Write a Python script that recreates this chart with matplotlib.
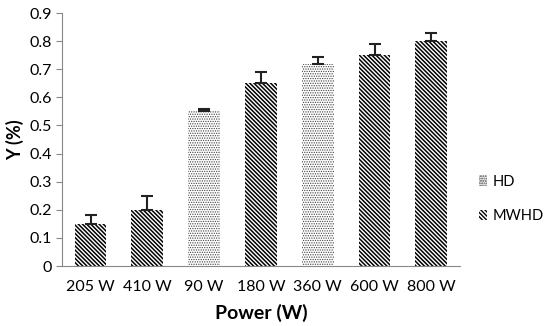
import matplotlib
matplotlib.use("Agg")
import matplotlib.pyplot as plt
from matplotlib.patches import Patch

# data
labels = ["205 W", "410 W", "90 W", "180 W", "360 W", "600 W", "800 W"]
values = [0.15, 0.20, 0.55, 0.65, 0.72, 0.75, 0.80]
errors = [0.03, 0.05, 0.01, 0.04, 0.025, 0.04, 0.03]
groups = ["MWHD", "MWHD", "HD", "MWHD", "HD", "MWHD", "MWHD"]

plt.rcParams['font.family'] = ['Lato', 'DejaVu Sans']

HD_HATCH = "......."
MW_HATCH = "\\" * 8

fig = plt.figure(figsize=(5.5, 3.26), dpi=100)
ax = fig.add_axes([0.113, 0.184, 0.723, 0.776])

x = list(range(len(labels)))
for i in x:
    if groups[i] == "HD":
        with plt.rc_context({'hatch.linewidth': 0.6}):
            ax.bar(i, values[i], width=0.56, color="white", edgecolor="#444444",
                   linewidth=0, hatch=HD_HATCH)
    else:
        with plt.rc_context({'hatch.linewidth': 1.1}):
            ax.bar(i, values[i], width=0.56, color="white", edgecolor="black",
                   linewidth=0, hatch=MW_HATCH)

ax.errorbar(x, values, yerr=[[0] * len(errors), errors], fmt="none",
            ecolor="#222222", elinewidth=1.5, capsize=4, capthick=1.5)

ax.set_xlim(-0.5, len(labels) - 0.5)
ax.set_ylim(0, 0.9)
ax.set_yticks([0, 0.1, 0.2, 0.3, 0.4, 0.5, 0.6, 0.7, 0.8, 0.9])
ax.set_yticklabels(["0", "0.1", "0.2", "0.3", "0.4", "0.5", "0.6", "0.7", "0.8", "0.9"])
ax.set_xticks(x)
ax.set_xticklabels(labels)
ax.tick_params(axis="x", length=0, pad=10, labelsize=11.5)
ax.tick_params(axis="y", length=4, color="#888888", labelsize=11.5)

for s in ["top", "right"]:
    ax.spines[s].set_visible(False)
ax.spines["left"].set_color("#888888")
ax.spines["bottom"].set_color("#888888")

ax.set_ylabel("Y (%)", fontsize=13, fontweight="bold")
ax.set_xlabel("Power (W)", fontsize=14, fontweight="bold", labelpad=7)

with plt.rc_context({'hatch.linewidth': 0.6}):
    h1 = Patch(facecolor="white", edgecolor="#444444", linewidth=0, hatch=HD_HATCH, label="HD")
with plt.rc_context({'hatch.linewidth': 1.1}):
    h2 = Patch(facecolor="white", edgecolor="black", linewidth=0, hatch=MW_HATCH, label="MWHD")
fig.legend(handles=[h1, h2], loc="center left", bbox_to_anchor=(0.87, 0.39),
           frameon=False, fontsize=10.5, handlelength=0.6, handleheight=0.7,
           handletextpad=0.35, labelspacing=1.4, borderaxespad=0, borderpad=0)

fig.savefig("out.png")
